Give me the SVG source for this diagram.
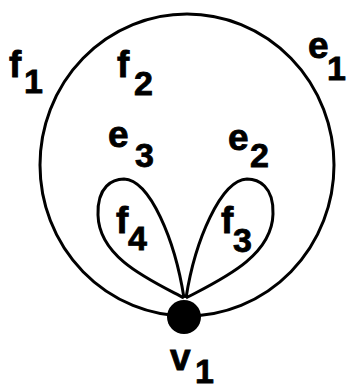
<svg xmlns="http://www.w3.org/2000/svg" width="348" height="391" viewBox="0 0 348 391">
<style>
.edge{fill:none;stroke:#000;stroke-width:3}
.m{font-family:"Liberation Sans",Arial,sans-serif;font-weight:bold;font-size:37px;fill:#000;stroke:#000;stroke-width:0.8}
.s{font-family:"Liberation Sans",Arial,sans-serif;font-weight:bold;font-size:34px;fill:#000;stroke:#000;stroke-width:0.8}
</style>
<rect width="348" height="391" fill="#fff"/>
<g id="connectors">
<ellipse id="e1" class="edge" cx="187" cy="165" rx="147" ry="151"/>
<path id="e3" class="edge" d="M184,298 C150,280 99,258 98,215 C97,186 113,179 124,179 C150,180 175,240 184,298"/>
<path id="e2" class="edge" d="M186,298 C220,280 272,257 273,214 C274,186 258,179 247,179 C221,180 195,240 186,298"/>
</g>
<g id="v1">
<circle cx="184" cy="317" r="17" fill="#000"/>
<text class="m" x="170" y="370">v</text><text class="s" x="195" y="383">1</text>
</g>
<g id="labels">
<text class="m" x="9" y="77">f</text><text class="s" x="24" y="93">1</text>
<text class="m" x="308" y="58">e</text><text class="s" x="327" y="80">1</text>
<text class="m" x="117" y="77">f</text><text class="s" x="134" y="95">2</text>
<text class="m" x="108" y="147">e</text><text class="s" x="135" y="167">3</text>
<text class="m" x="228" y="150">e</text><text class="s" x="250" y="167">2</text>
<text class="m" x="116" y="233">f</text><text class="s" x="128" y="250">4</text>
<text class="m" x="221" y="233">f</text><text class="s" x="233" y="252">3</text>
</g>
</svg>
